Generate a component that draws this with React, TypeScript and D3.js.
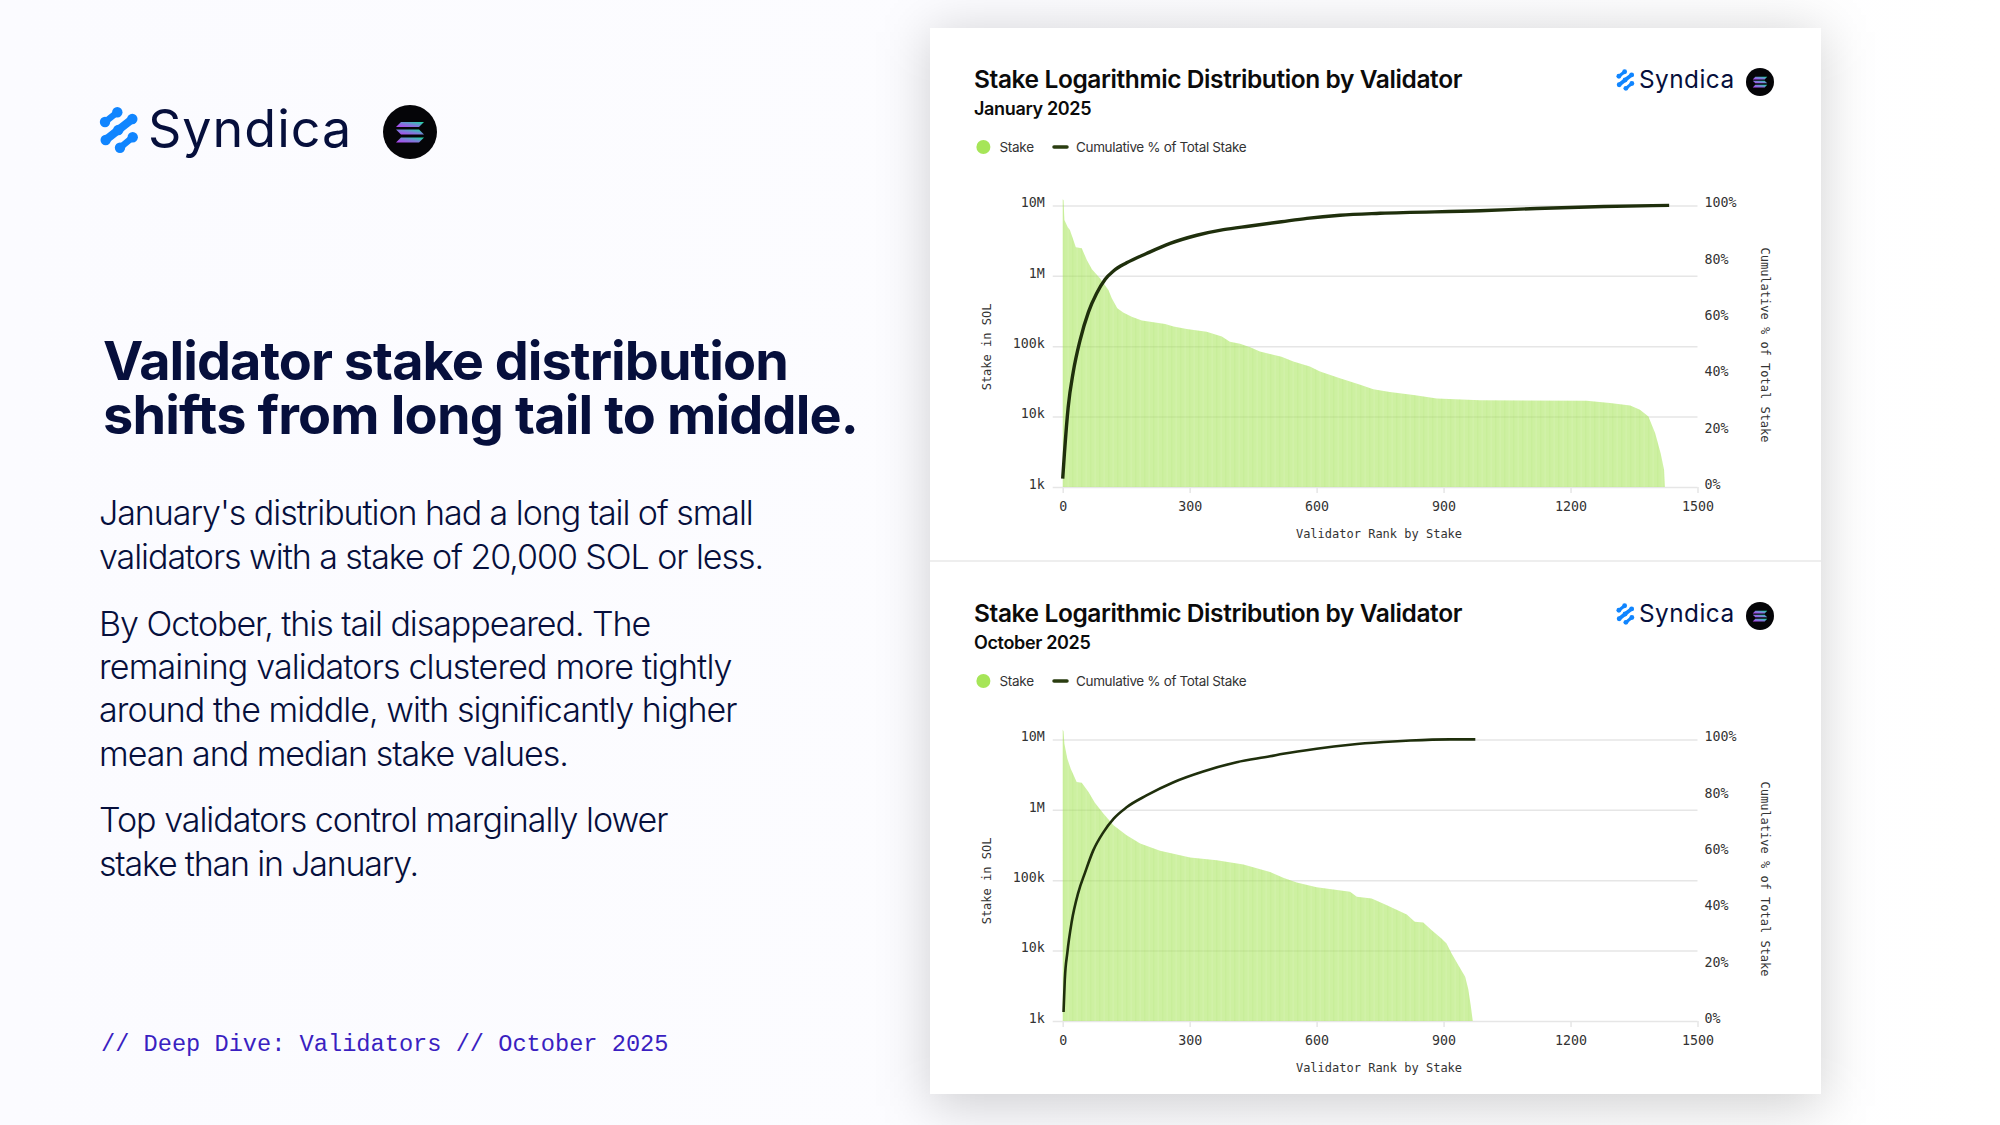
import React, { useEffect, useRef } from 'react';
import * as d3 from 'd3';

// values
const janRanks = [0, 2, 4, 12, 17, 24, 31, 45, 57, 69, 88, 108, 116, 129, 143, 163, 187, 242, 262, 293, 340, 376, 395, 419, 443, 466, 517, 545, 584, 608, 655, 703, 734, 773, 829, 884, 986, 1238, 1293, 1341, 1364, 1384, 1400, 1413, 1421, 1423];
const janStake = [12200000, 11800000, 6200000, 4900000, 4470000, 3400000, 2540000, 2460000, 1680000, 1240000, 923000, 631000, 479000, 347000, 301000, 263000, 231000, 207000, 190000, 176000, 161000, 137000, 116000, 108000, 97000, 84000, 71000, 60500, 51500, 43700, 35000, 28300, 24500, 22300, 20200, 18100, 17100, 16800, 15600, 14400, 12500, 10000, 5800, 3000, 1760, 1000];
const janCumRanks = [0, 4, 13, 25, 41, 61, 80, 100, 120, 151, 198, 254, 317, 380, 443, 517, 577, 655, 750, 986, 1120, 1278, 1433];
const janCumPct = [3, 11.8, 28.4, 40.9, 52.1, 62.2, 68.7, 73.7, 76.7, 79.6, 82.9, 86.5, 89.4, 91.4, 92.7, 94.2, 95.4, 96.5, 97.2, 98.1, 98.9, 99.6, 100];

const octRanks = [0, 2, 4, 11, 19, 33, 45, 61, 76, 96, 120, 151, 183, 230, 301, 364, 427, 490, 521, 553, 600, 679, 695, 730, 766, 813, 832, 852, 872, 895, 907, 919, 935, 951, 958, 964, 969];
const octStake = [13800000, 13000000, 8700000, 5300000, 3840000, 2480000, 2430000, 1790000, 1260000, 883000, 603000, 435000, 331000, 263000, 210000, 192000, 167000, 131000, 108000, 92700, 79400, 68400, 58000, 55000, 44000, 32600, 25600, 25000, 19500, 14900, 12600, 9100, 6200, 4260, 2900, 1690, 1000];
const octCumRanks = [2, 5, 11, 21, 37, 53, 72, 96, 120, 151, 198, 262, 332, 411, 490, 521, 600, 679, 758, 821, 915, 975];
const octCumPct = [3.2, 14.8, 24.3, 35, 45.7, 52.8, 60.5, 67, 71.8, 75.9, 80.1, 84.8, 88.6, 91.9, 94, 94.9, 96.7, 98.1, 99.05, 99.6, 100, 100];

const stakeTicks = [1000, 10000, 100000, 1000000, 10000000];
const stakeTickLabels = ['1k', '10k', '100k', '1M', '10M'];
const rankTicks = [0, 300, 600, 900, 1200, 1500];
const pctTicks = [0, 20, 40, 60, 80, 100];

const bodyLines = [
    "January's distribution had a long tail of small",
    'validators with a stake of 20,000 SOL or less.',
    'By October, this tail disappeared. The',
    'remaining validators clustered more tightly',
    'around the middle, with significantly higher',
    'mean and median stake values.',
    'Top validators control marginally lower',
    'stake than in January.',
];
const bodyBaselines = [524.5, 568.5, 635.5, 678.5, 722, 765.5, 831.5, 875.5];
const bodySpacing = [-1.05, -1.05, -1.05, -0.85, -0.95, -1.0, -1.0, -1.2];

const NAVY = '#060f3c';
const SANS = 'Inter, "Noto Sans", sans-serif';
const MONO = '"DejaVu Sans Mono", monospace';

const Logo = ({ x, y, size }: { x: number; y: number; size: number }) => {
    // x,y is the left edge and baseline of the wordmark, size is the big one = 1
    const blobs = [[105, 122], [117.3, 112.3], [105.7, 140], [118.3, 130], [132.3, 119], [120, 147.7], [132.7, 137.3]];
    return (
        <g transform={`translate(${x},${y}) scale(${size})`}>
            <g transform="translate(-148,-147)" fill="#1085ff">
                <g fill="none" stroke="#1085ff" strokeWidth={6.5} strokeLinecap="round">
                    <path d="M105,122 L117.3,112.3" />
                    <path d="M105.7,140 L118.3,130 L132.3,119" strokeWidth={8} />
                    <path d="M120,147.7 L132.7,137.3" />
                </g>
                {blobs.map((b, i) => <circle key={i} cx={b[0]} cy={b[1]} r={5.2} />)}
            </g>
            <text x={0} y={0} fontFamily={SANS} fontSize={52} fill={NAVY} letterSpacing={1}>Syndica</text>
        </g>
    );
};

const SolanaBadge = ({ cx, cy, r }: { cx: number; cy: number; r: number }) => {
    const k = r / 27;
    return (
        <g transform={`translate(${cx},${cy}) scale(${k})`}>
            <circle r={27} fill="#050508" />
            <path d="M-9,-10 L14,-10 L9,-5 L-14,-5 Z" fill="url(#solGrad)" />
            <path d="M-14,-2.5 L9,-2.5 L14,2.5 L-9,2.5 Z" fill="url(#solGrad)" />
            <path d="M-9,5.5 L14,5.5 L9,10.5 L-14,10.5 Z" fill="url(#solGrad)" />
        </g>
    );
};

type ChartProps = {
    top: number;
    subtitle: string;
    ranks: number[];
    stake: number[];
    cumRanks: number[];
    cumPct: number[];
};

const StakeChart = ({ top, subtitle, ranks, stake, cumRanks, cumPct }: ChartProps) => {
    const chartRef = useRef<SVGGElement | null>(null);

    useEffect(() => {
        const g = d3.select(chartRef.current);
        g.selectAll('*').remove();

        const xScale = d3.scaleLinear().domain([0, 1500]).range([1062.7, 1697.5]);
        const yScale = d3.scaleLog().domain([1000, 10000000]).range([487, 205.4]);
        const pctScale = d3.scaleLinear().domain([0, 100]).range([487, 205.4]);

        // grid + left labels
        const yAxis = d3.axisLeft(yScale)
            .tickValues(stakeTicks)
            .tickFormat((d, i) => stakeTickLabels[i])
            .tickSize(-(1697.5 - 1052.7))
            .tickPadding(8);
        const yG = g.append('g').attr('transform', 'translate(1052.7,0)').call(yAxis as any);
        yG.select('.domain').remove();
        yG.selectAll('line').attr('stroke', '#e6e6e6').attr('stroke-width', 1.5).attr('x2', 644.8);
        yG.selectAll('text')
            .attr('font-family', MONO).attr('font-size', 13.3).attr('fill', '#333')
            .attr('x', -8).attr('dy', '0.1em');

        const xAxis = d3.axisBottom(xScale).tickValues(rankTicks).tickFormat(d3.format('d') as any).tickSize(6).tickPadding(8.5);
        const xG = g.append('g').attr('transform', 'translate(0,487)').call(xAxis as any);
        xG.select('.domain').remove();
        xG.selectAll('line').attr('stroke', '#e6e6e6').attr('stroke-width', 1.5);
        xG.selectAll('text').attr('font-family', MONO).attr('font-size', 13.3).attr('fill', '#333');

        const pctAxis = d3.axisRight(pctScale).tickValues(pctTicks).tickFormat(d => `${d}%`).tickSize(0).tickPadding(7);
        const pG = g.append('g').attr('transform', 'translate(1697.5,0)').call(pctAxis as any);
        pG.select('.domain').remove();
        pG.selectAll('text')
            .attr('font-family', MONO).attr('font-size', 13.3).attr('fill', '#333')
            .attr('dy', '0.1em');

        // stake area
        const area = d3.area<number>()
            .x((d, i) => xScale(ranks[i]))
            .y0(487)
            .y1(d => yScale(d));
        g.append('path').attr('d', area(stake)).attr('fill', '#a6e558').attr('fill-opacity', 0.56);
        g.append('path').attr('d', area(stake)).attr('fill', 'url(#barStripes)');

        // cumulative line
        const line = d3.line<number>()
            .x((d, i) => xScale(cumRanks[i]))
            .y(d => pctScale(d))
            .curve(d3.curveMonotoneX);
        g.append('path')
            .attr('d', line(cumPct))
            .attr('fill', 'none')
            .attr('stroke', '#1f2f0c')
            .attr('stroke-width', top === 0 ? 3.4 : 2.6);

        g.append('text')
            .attr('x', 1379).attr('y', 538).attr('text-anchor', 'middle')
            .attr('font-family', MONO).attr('font-size', 12).attr('fill', '#333')
            .text('Validator Rank by Stake');
        g.append('text')
            .attr('transform', 'translate(991,347) rotate(-90)').attr('text-anchor', 'middle')
            .attr('font-family', MONO).attr('font-size', 12).attr('fill', '#333')
            .text('Stake in SOL');
        g.append('text')
            .attr('transform', 'translate(1761,345) rotate(90)').attr('text-anchor', 'middle')
            .attr('font-family', MONO).attr('font-size', 12).attr('fill', '#333')
            .text('Cumulative % of Total Stake');
    }, [top, ranks, stake, cumRanks, cumPct]);

    return (
        <g transform={`translate(0,${top})`}>
            <text x={974} y={87.5} fontFamily={SANS} fontSize={24.5} fontWeight={600} fill="#0b0b0b" letterSpacing={-0.4}>
                Stake Logarithmic Distribution by Validator
            </text>
            <text x={974} y={115} fontFamily={SANS} fontSize={18} fontWeight={600} fill="#0b0b0b" letterSpacing={-0.35}>
                {subtitle}
            </text>
            <Logo x={1639} y={88} size={0.468} />
            <SolanaBadge cx={1760} cy={82} r={14} />

            <circle cx={983.4} cy={147} r={7} fill="#a6e558" />
            <text x={999.5} y={152} fontFamily={SANS} fontSize={13.5} fill="#333" letterSpacing={-0.3}>Stake</text>
            <line x1={1054} x2={1067} y1={147} y2={147} stroke="#2a3d10" strokeWidth={3.5} strokeLinecap="round" />
            <text x={1076} y={152} fontFamily={SANS} fontSize={13.5} fill="#333" letterSpacing={-0.35}>Cumulative % of Total Stake</text>

            <g ref={chartRef} />
        </g>
    );
};

export default function App() {
    return (
        <svg width={2000} height={1125} viewBox="0 0 2000 1125" style={{ position: 'absolute', left: 0, top: 0, display: 'block' }}>
            <defs>
                <linearGradient id="solGrad" x1="0" x2="1" y1="1" y2="0">
                    <stop offset="0" stopColor="#b63df5" />
                    <stop offset="0.5" stopColor="#7a7fd8" />
                    <stop offset="1" stopColor="#17e0a0" />
                </linearGradient>
                <linearGradient id="pageBg" x1="0" x2="1" y1="0" y2="0">
                    <stop offset="0" stopColor="#fbfbff" />
                    <stop offset="0.5" stopColor="#fcfcff" />
                    <stop offset="1" stopColor="#ffffff" />
                </linearGradient>
                <pattern id="barStripes" width={9} height={10} patternUnits="userSpaceOnUse">
                    <rect x={1} width={1.4} height={10} fill="#9fdc55" fillOpacity={0.1} />
                    <rect x={5.5} width={1.4} height={10} fill="#ffffff" fillOpacity={0.08} />
                </pattern>
                <filter id="cardShadow" x="-20%" y="-20%" width="140%" height="140%">
                    <feGaussianBlur stdDeviation="26" />
                </filter>
            </defs>

            <rect width={2000} height={1125} fill="url(#pageBg)" />

            {/* card */}
            <rect x={930} y={32} width={891} height={1074} fill="#000" fillOpacity={0.18} filter="url(#cardShadow)" />
            <rect x={930} y={28} width={891} height={1066} fill="#fff" />
            <line x1={930} x2={1821} y1={561} y2={561} stroke="#e8e8e8" strokeWidth={1.5} />

            {/* left column */}
            <Logo x={148} y={147} size={1} />
            <SolanaBadge cx={410} cy={132} r={27} />

            <g fontFamily={SANS} fill={NAVY}>
                <text x={103} y={380} fontSize={54} fontWeight={700} letterSpacing={-0.95}>Validator stake distribution</text>
                <text x={103} y={434} fontSize={54} fontWeight={700} letterSpacing={-0.82}>shifts from long tail to middle.</text>
                {bodyLines.map((l, i) => (
                    <text key={i} x={99} y={bodyBaselines[i]} fontSize={34} fontWeight={300} letterSpacing={bodySpacing[i]}>{l}</text>
                ))}
            </g>
            <text x={101} y={1050.5} fontFamily='"Liberation Mono", monospace' fontSize={23.65} fill="#3a1fc1">
                // Deep Dive: Validators // October 2025
            </text>

            <StakeChart top={0} subtitle="January 2025" ranks={janRanks} stake={janStake} cumRanks={janCumRanks} cumPct={janCumPct} />
            <StakeChart top={534} subtitle="October 2025" ranks={octRanks} stake={octStake} cumRanks={octCumRanks} cumPct={octCumPct} />
        </svg>
    );
}
